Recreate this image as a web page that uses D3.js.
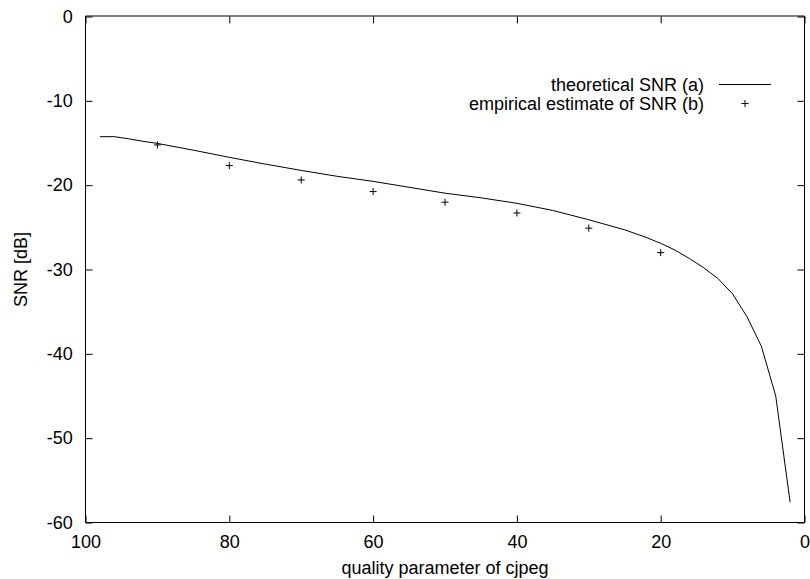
<!DOCTYPE html>
<html>
<head>
<meta charset="utf-8">
<script src="https://cdn.jsdelivr.net/npm/d3@7"></script>
<style>
  body { margin: 0; background: #fff; }
  svg { display: block; font-family: "Liberation Sans", Arial, Helvetica, sans-serif; }
</style>
</head>
<body>
<svg id="chart" width="810" height="579"></svg>
<script>
// Data
const theoQuality = [98, 96, 94, 92, 90, 85, 80, 75, 70, 65, 60, 55, 50, 45, 40, 35, 30, 25, 22, 20, 18, 16, 14, 12, 10, 8, 6, 4, 2];
const theoSNR     = [-14.25, -14.25, -14.5, -14.8, -15.05, -15.85, -16.7, -17.5, -18.25, -18.95, -19.55, -20.25, -20.95, -21.5, -22.15, -23.0, -24.1, -25.3, -26.2, -26.9, -27.7, -28.7, -29.8, -31.1, -32.9, -35.6, -39.1, -45.0, -57.6];
const empQuality  = [90, 80, 70, 60, 50, 40, 30, 20];
const empSNR      = [-15.23, -17.68, -19.38, -20.76, -22.02, -23.3, -25.1, -28.0];
const xTicks = [100, 80, 60, 40, 20, 0];
const yTicks = [0, -10, -20, -30, -40, -50, -60];
const seriesNames = ["theoretical SNR (a)", "empirical estimate of SNR (b)"];
const xTitle = "quality parameter of cjpeg";
const yTitle = "SNR [dB]";

const svg = d3.select("#chart");
const L = 85.5, R = 804.5, T = 16.5, B = 522.5;
const x = d3.scaleLinear().domain([100, 0]).range([L, R]);
const y = d3.scaleLinear().domain([0, -60]).range([T, B]);

const fs = "18px";
const fmt = d => String(d);

// Axes
const gB = svg.append("g").attr("transform", `translate(0,${B})`)
  .call(d3.axisBottom(x).tickValues(xTicks).tickSize(-7).tickPadding(12.7).tickFormat(fmt));
const gT = svg.append("g").attr("transform", `translate(0,${T})`)
  .call(d3.axisTop(x).tickValues(xTicks).tickSize(-7).tickFormat(""));
const gL = svg.append("g").attr("transform", `translate(${L},0)`)
  .call(d3.axisLeft(y).tickValues(yTicks).tickSize(-7).tickPadding(12.8).tickFormat(fmt));
const gR = svg.append("g").attr("transform", `translate(${R},0)`)
  .call(d3.axisRight(y).tickValues(yTicks).tickSize(-7).tickFormat(""));
[gB, gT, gL, gR].forEach(g => {
  g.select(".domain").remove();
  g.selectAll(".tick line").attr("stroke", "#000").attr("stroke-width", 1);
  g.selectAll("text").attr("font-size", fs).attr("fill", "#000").attr("font-family", null);
});

// Border
svg.append("line").attr("x1", L).attr("x2", R).attr("y1", T - 0.5).attr("y2", T - 0.5)
  .attr("stroke", "#000").attr("stroke-width", 1);
svg.append("line").attr("x1", L).attr("x2", R).attr("y1", B).attr("y2", B)
  .attr("stroke", "#000").attr("stroke-width", 1);
svg.append("line").attr("x1", L).attr("x2", L).attr("y1", T - 0.5).attr("y2", B)
  .attr("stroke", "#000").attr("stroke-width", 1);
svg.append("line").attr("x1", R).attr("x2", R).attr("y1", T - 0.5).attr("y2", B)
  .attr("stroke", "#000").attr("stroke-width", 1);

// Theoretical line
const theo = theoQuality.map((q, i) => [q, theoSNR[i]]);
svg.append("path").datum(theo)
  .attr("fill", "none").attr("stroke", "#000").attr("stroke-width", 1)
  .attr("d", d3.line().x(d => x(d[0])).y(d => y(d[1])));

// Empirical markers
const plusPath = s => `M${-s},0H${s}M0,${-s}V${s}`;
const emp = empQuality.map((q, i) => [q, empSNR[i]]);
svg.append("g").selectAll("path").data(emp).join("path")
  .attr("transform", d => `translate(${x(d[0])},${y(d[1])})`)
  .attr("d", plusPath(3.5)).attr("stroke", "#000").attr("stroke-width", 1).attr("fill", "none");

// Legend
const lg = svg.append("g");
lg.append("text").attr("x", 704).attr("y", 84.5).attr("dy", "0.35em").attr("text-anchor", "end")
  .attr("font-size", fs).text(seriesNames[0]);
lg.append("line").attr("x1", 719).attr("x2", 771).attr("y1", 84.5).attr("y2", 84.5)
  .attr("stroke", "#000").attr("stroke-width", 1);
lg.append("text").attr("x", 704).attr("y", 103.5).attr("dy", "0.35em").attr("text-anchor", "end")
  .attr("font-size", fs).text(seriesNames[1]);
lg.append("path").attr("transform", "translate(745,103.5)").attr("d", plusPath(3.5))
  .attr("stroke", "#000").attr("stroke-width", 1);

// Titles
svg.append("text").attr("x", (L + R) / 2).attr("y", 574).attr("text-anchor", "middle")
  .attr("font-size", fs).text(xTitle);
svg.append("text").attr("transform", `translate(20.5,${(T + B) / 2}) rotate(-90)`)
  .attr("dy", "0.35em").attr("text-anchor", "middle").attr("font-size", fs).text(yTitle);
</script>
</body>
</html>
